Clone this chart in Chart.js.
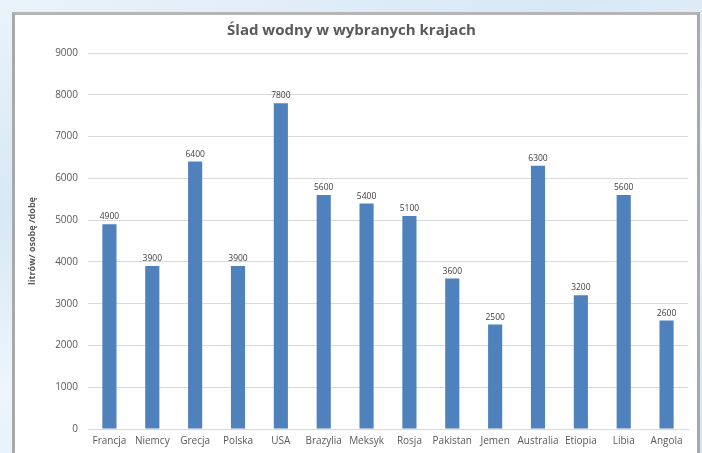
<!DOCTYPE html>
<html lang="pl">
<head>
    <meta charset="UTF-8">
    <title>Ślad wodny w wybranych krajach</title>
    <style>
        html, body {
            margin: 0;
            padding: 0;
            width: 702px;
            height: 453px;
            overflow: hidden;
            font-family: "Open Sans", sans-serif;
            background: linear-gradient(160deg, #eaf3fa 0%, #d7e8f5 30%, #eef5fb 55%, #d3e5f3 100%);
        }
        #panel {
            position: absolute;
            left: 12px;
            top: 12px;
            width: 682px;
            height: 460px;
            border: 3px solid #a9a9a9;
            border-top-color: #b5b5b5;
            background: #fff;
        }
        #chartBox {
            position: absolute;
            left: 0;
            top: 0;
            width: 682px;
            height: 438px;
        }
    </style>
</head>
<body>

<div id="panel">
    <div id="chartBox"><canvas id="waterChart"></canvas></div>
</div>

<script src="https://cdn.jsdelivr.net/npm/chart.js"></script>
<script>
    // dane z wykresu
    const kraje = ['Francja', 'Niemcy', 'Grecja', 'Polska', 'USA', 'Brazylia', 'Meksyk', 'Rosja', 'Pakistan', 'Jemen', 'Australia', 'Etiopia', 'Libia', 'Angola'];
    const litry = [4900, 3900, 6400, 3900, 7800, 5600, 5400, 5100, 3600, 2500, 6300, 3200, 5600, 2600];
    const tytul = 'Ślad wodny w wybranych krajach';
    const tytulOsi = 'litrów/ osobę /dobę';

    // etykiety wartości nad słupkami
    const barLabels = {
        id: 'barLabels',
        afterDatasetsDraw(chart) {
            const ctx = chart.ctx;
            const meta = chart.getDatasetMeta(0);
            ctx.save();
            ctx.font = '8.5px "Open Sans", sans-serif';
            ctx.fillStyle = '#404040';
            ctx.textAlign = 'center';
            ctx.textBaseline = 'bottom';
            meta.data.forEach((bar, i) => {
                ctx.fillText(litry[i], bar.x, bar.y - 3);
            });
            ctx.restore();
        }
    };

    const ctx = document.getElementById('waterChart').getContext('2d');
    new Chart(ctx, {
        type: 'bar',
        data: {
            labels: kraje,
            datasets: [{
                label: 'litrów/ osobę /dobę',
                data: litry,
                backgroundColor: '#4f81bd',
                barPercentage: 0.33,
                categoryPercentage: 1
            }]
        },
        options: {
            responsive: true,
            maintainAspectRatio: false,
            animation: false,
            layout: { padding: { left: 0, right: 9, top: 0, bottom: 0 } },
            plugins: {
                legend: { display: false },
                tooltip: { enabled: false },
                title: {
                    display: true,
                    text: tytul,
                    color: '#595959',
                    font: { family: '"Open Sans", sans-serif', size: 15, weight: 'bold' },
                    padding: { top: 7, bottom: 13 }
                }
            },
            scales: {
                x: {
                    grid: { display: false, drawTicks: false },
                    border: { display: true, color: '#d9d9d9' },
                    ticks: {
                        color: '#595959',
                        font: { family: '"Open Sans", sans-serif', size: 10 },
                        maxRotation: 0,
                        autoSkip: false,
                        padding: 6
                    },
                    afterFit(scale) { scale.height = 24; }
                },
                y: {
                    min: 0,
                    max: 9000,
                    ticks: {
                        stepSize: 1000,
                        color: '#595959',
                        font: { family: '"Open Sans", sans-serif', size: 10 },
                        padding: 10,
                        callback: (v) => String(v)
                    },
                    grid: { color: '#d9d9d9', drawTicks: false },
                    border: { display: false },
                    title: {
                        display: true,
                        text: tytulOsi,
                        color: '#595959',
                        font: { family: '"Open Sans", sans-serif', size: 9, weight: 'bold' },
                        padding: { top: 12, bottom: 0 }
                    },
                    afterFit(scale) { scale.width = 73; }
                }
            }
        },
        plugins: [barLabels]
    });
</script>
</body>
</html>
